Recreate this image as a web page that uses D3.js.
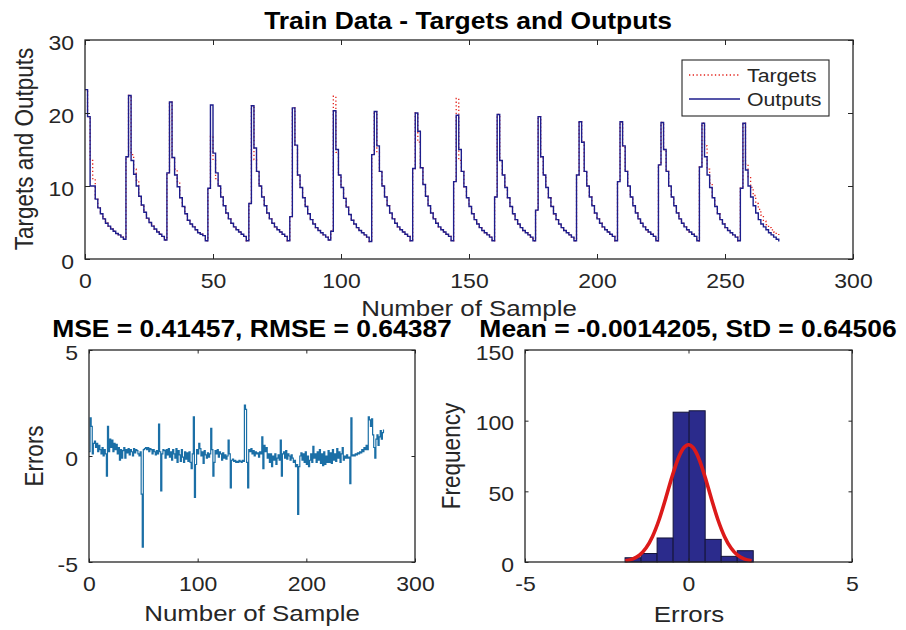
<!DOCTYPE html>
<html>
<head>
<meta charset="utf-8">
<script src="https://cdn.jsdelivr.net/npm/d3@7/dist/d3.min.js"></script>
<style>
body { margin: 0; background: #fff; }
</style>
</head>
<body>
<script>
// Outputs of the network, one value per sample (17 cycles of 16 samples)
var outputs = [
    23.2, 19.5, 10.0, 10.0, 8.2, 7.0, 6.2, 5.5, 4.9, 4.5, 4.1, 3.8, 3.5, 3.3, 3.0, 2.7,
    14.0, 22.4, 13.5, 11.6, 10.0, 8.6, 7.4, 6.4, 5.6, 5.0, 4.5, 4.1, 3.7, 3.4, 3.1, 2.6,
    11.8, 21.5, 13.9, 11.5, 9.9, 8.4, 7.2, 6.2, 5.3, 4.8, 4.4, 4.0, 3.6, 3.4, 3.2, 2.5,
    9.7, 21.1, 14.5, 11.8, 10.0, 8.5, 7.3, 6.3, 5.5, 4.9, 4.4, 4.0, 3.7, 3.4, 3.1, 2.5,
    7.6, 21.0, 15.2, 12.0, 10.0, 8.5, 7.3, 6.3, 5.5, 4.9, 4.4, 4.0, 3.7, 3.4, 3.1, 2.5,
    5.8, 20.7, 15.6, 11.5, 9.8, 8.4, 7.2, 6.2, 5.4, 4.8, 4.3, 3.9, 3.6, 3.3, 3.0, 2.6,
    3.8, 20.3, 15.0, 11.5, 9.8, 8.3, 7.1, 6.1, 5.3, 4.8, 4.3, 3.9, 3.6, 3.3, 3.0, 2.4,
    14.3, 20.2, 15.5, 12.0, 10.0, 8.5, 7.3, 6.3, 5.5, 4.9, 4.4, 4.0, 3.7, 3.4, 3.1, 2.5,
    12.4, 20.0, 17.5, 12.5, 10.2, 8.6, 7.3, 6.3, 5.5, 4.9, 4.4, 4.0, 3.7, 3.4, 3.1, 2.5,
    10.6, 19.7, 15.0, 12.0, 9.9, 8.4, 7.2, 6.2, 5.4, 4.8, 4.3, 3.9, 3.6, 3.3, 3.0, 2.5,
    8.5, 19.8, 13.5, 11.5, 9.8, 8.4, 7.2, 6.2, 5.4, 4.8, 4.3, 3.9, 3.6, 3.3, 3.0, 2.5,
    6.7, 19.5, 14.0, 11.5, 9.8, 8.4, 7.2, 6.2, 5.4, 4.8, 4.3, 3.9, 3.6, 3.3, 3.0, 2.5,
    11.5, 18.8, 16.0, 12.0, 10.0, 8.5, 7.3, 6.3, 5.5, 4.9, 4.4, 4.0, 3.7, 3.4, 3.1, 2.5,
    10.6, 18.8, 15.5, 12.0, 10.0, 8.5, 7.3, 6.3, 5.5, 4.9, 4.4, 4.0, 3.7, 3.4, 3.1, 2.5,
    12.9, 18.7, 15.0, 12.0, 10.0, 8.5, 7.3, 6.3, 5.5, 4.9, 4.4, 4.0, 3.7, 3.4, 3.1, 2.5,
    12.6, 18.6, 14.0, 11.5, 9.8, 8.4, 7.2, 6.2, 5.4, 4.8, 4.3, 3.9, 3.6, 3.3, 3.0, 2.5,
    9.7, 18.6, 12.2, 10.0, 8.5, 7.3, 6.3, 5.4, 4.8, 4.4, 4.0, 3.6, 3.3, 3.0, 2.7, 2.4
];

// Targets (mostly hidden under the outputs)
var targets = [
    23.2, 19.5, 13.5, 11.0, 8.2, 7.0, 6.2, 5.5, 4.9, 4.5, 4.1, 3.8, 3.5, 3.3, 3.0, 2.7,
    14.0, 22.4, 14.3, 12.3, 10.8, 8.6, 7.4, 6.4, 5.6, 5.0, 4.5, 4.1, 3.7, 3.4, 3.1, 2.6,
    11.8, 21.5, 13.9, 12.3, 10.6, 8.4, 7.2, 6.2, 5.3, 4.8, 4.4, 4.0, 3.6, 3.4, 3.2, 2.5,
    9.7, 16.8, 13.5, 11.0, 10.0, 8.5, 7.3, 6.3, 5.5, 4.9, 4.4, 4.0, 3.7, 3.4, 3.1, 2.5,
    7.6, 21.0, 13.6, 12.0, 10.0, 8.5, 7.3, 6.3, 5.5, 4.9, 4.4, 4.0, 3.7, 3.4, 3.1, 2.5,
    5.8, 20.7, 15.6, 11.5, 9.8, 8.4, 7.2, 6.2, 5.4, 4.8, 4.3, 3.9, 3.6, 3.3, 3.0, 2.6,
    3.8, 22.3, 14.6, 11.5, 9.8, 8.3, 7.1, 6.1, 5.3, 4.8, 4.3, 3.9, 3.6, 3.3, 3.0, 2.4,
    14.3, 20.2, 14.6, 12.0, 10.0, 8.5, 7.3, 6.3, 5.5, 4.9, 4.4, 4.0, 3.7, 3.4, 3.1, 2.5,
    12.4, 20.0, 16.0, 12.5, 10.2, 8.6, 7.3, 6.3, 5.5, 4.9, 4.4, 4.0, 3.7, 3.4, 3.1, 2.5,
    10.6, 22.0, 13.5, 12.0, 9.9, 8.4, 7.2, 6.2, 5.4, 4.8, 4.3, 3.9, 3.6, 3.3, 3.0, 2.5,
    8.5, 19.8, 13.5, 11.5, 9.8, 8.4, 7.2, 6.2, 5.4, 4.8, 4.3, 3.9, 3.6, 3.3, 3.0, 2.5,
    6.7, 19.5, 14.0, 11.5, 9.8, 8.4, 7.2, 6.2, 5.4, 4.8, 4.3, 3.9, 3.6, 3.3, 3.0, 2.5,
    11.5, 18.8, 16.0, 12.0, 10.0, 8.5, 7.3, 6.3, 5.5, 4.9, 4.4, 4.0, 3.7, 3.4, 3.1, 2.5,
    10.6, 18.8, 15.5, 12.0, 10.0, 8.5, 7.3, 6.3, 5.5, 4.9, 4.4, 4.0, 3.7, 3.4, 3.1, 2.5,
    12.9, 18.7, 15.0, 12.0, 10.0, 8.5, 7.3, 6.3, 5.5, 4.9, 4.4, 4.0, 3.7, 3.4, 3.1, 2.5,
    12.6, 18.6, 15.5, 12.3, 10.4, 8.4, 7.2, 6.2, 5.4, 4.8, 4.3, 3.9, 3.6, 3.3, 3.0, 2.5,
    9.7, 18.6, 13.0, 11.3, 9.8, 8.7, 7.6, 6.8, 6.0, 5.2, 4.7, 4.3, 4.0, 3.7, 3.5, 3.3
];

// Errors (targets - outputs) per sample
var errors = [
    0.2, 1.8, 1.4, 0.1, 0.6, 0.7, 0.4, 0.6, 0.2, 0.5, 0.3, 0.1, 0.4, 0.0, 0.3, 0.1,
    -0.95, 1.4, 0.2, 0.8, 0.4, 0.75, 0.2, 0.6, 0.3, 0.55, 0.1, 0.4, -0.2, 0.3, -0.1, 0.25,
    0.4, -0.1, 0.3, 0.15, 0.35, 0.05, 0.3, 0.2, 0.0, 0.35, 0.15, 0.3, 0.25, 0.1, 0.0, 0.2,
    -1.8, -4.3, 0.3, 0.35, 0.4, 0.3, 0.4, 0.2, 0.35, 0.3, 0.1, 0.3, 0.2, 0.05, 0.25, 0.1,
    1.5, 0.2, -1.65, 0.1, 0.3, 0.25, -0.1, 0.3, 0.05, 0.35, -0.05, 0.2, -0.2, 0.3, 0.1, -0.1,
    0.35, -0.3, 0.25, 0.05, -0.25, 0.3, -0.05, -0.3, 0.2, -0.15, 0.15, -0.25, 0.2, -0.3, -0.6, 0.1,
    1.85, -1.95, -0.4, 0.3, 0.1, 0.6, 0.35, 0.0, 0.2, -0.35, 0.25, 0.05, -0.1, 0.15, -0.05, 0.1,
    1.3, 0.3, -0.95, -0.3, 0.25, 0.1, 0.3, -0.05, 0.2, 0.1, -0.2, 0.15, -0.1, 0.05, -0.15, 0.0,
    0.75, 0.1, -1.5, -0.2, -0.15, -0.25, -0.2, -0.3, -0.25, -0.3, -0.2, -0.25, -0.3, -0.2, -0.25, 2.4,
    2.2, -0.3, -1.5, 0.3, 0.2, 0.35, 0.1, 0.25, 0.0, 0.2, 0.1, 0.15, -0.05, 0.2, 0.1, 0.9,
    -0.6, 0.5, 0.2, 0.4, -0.1, 0.1, -0.3, 0.1, -0.5, 0.0, -0.2, 0.1, -0.4, -0.1, 0.05, -0.2,
    0.75, -0.95, 0.1, 0.2, -0.1, 0.25, -0.15, 0.1, 0.0, -0.2, 0.05, -0.1, -0.3, -0.2, -0.5, -0.4,
    -2.75, -0.5, 0.0, 0.15, -0.2, 0.1, -0.3, 0.2, -0.4, 0.0, -0.5, -0.2, 0.1, -0.3, 0.45, -0.1,
    0.1, -0.3, 0.2, -0.2, 0.3, -0.35, 0.1, -0.45, 0.2, -0.4, 0.0, -0.3, 0.25, -0.3, 0.15, -0.35,
    0.3, -0.2, 0.1, -0.25, 0.35, -0.1, 0.2, -0.3, 0.1, 0.4, -0.2, 0.0, -0.1, 0.05, -0.1, -0.05,
    -1.3, 1.8, 0.0, 0.05, 0.0, 0.1, 0.05, 0.15, 0.1, 0.2, 0.15, 0.3, 0.2, 0.4, 0.3, 0.5,
    0.3, 1.85, 1.7, 1.4, 1.75, 1.0, 0.4, -0.1, 0.8, 1.0, 0.5, 0.9, 1.2, 0.8, 1.1, 1.25
];

// Histogram of errors
var binEdges = [-1.94, -1.45, -0.96, -0.47, 0.02, 0.51, 1.00, 1.49, 1.98];
var binCounts = [3, 6, 17, 106, 107, 16, 4, 8];

// Fitted normal curve (red)
var normX = [-1.93, -1.7, -1.5, -1.3, -1.1, -0.9, -0.7, -0.5, -0.3, -0.15, 0, 0.15, 0.3, 0.5, 0.7, 0.9, 1.1, 1.3, 1.5, 1.7, 1.93];
var normY = [0.8, 2.2, 4.9, 9.9, 18.1, 29.9, 44.8, 60.6, 74.1, 80.7, 83.0, 80.7, 74.1, 60.6, 44.8, 29.9, 18.1, 9.9, 4.9, 2.2, 0.8];

// Ticks
var topXTicks = [0, 50, 100, 150, 200, 250, 300];
var topYTicks = [0, 10, 20, 30];
var errXTicks = [0, 100, 200, 300];
var errYTicks = [-5, 0, 5];
var histXTicks = [-5, 0, 5];
var histYTicks = [0, 50, 100, 150];

var SX = 1.15;   // source figure is a bit stretched sideways, text too
var FONT = '"Liberation Sans", Arial, Helvetica, sans-serif';
var INK = '#262626';
var plain = (d) => String(d);   // keep "-5" with a hyphen, like the source

var svg = d3.select('body').append('svg')
    .attr('width', 906).attr('height', 630)
    .style('background', '#fff');

function addText(x, y, str, size, bold, rotate, anchor) {
    return svg.append('text')
        .attr('transform', 'translate(' + x + ',' + y + ') scale(' + SX + ',1)' + (rotate ? ' rotate(-90)' : ''))
        .attr('text-anchor', anchor || 'middle')
        .attr('font-family', FONT)
        .attr('font-size', size)
        .attr('font-weight', bold ? 'bold' : 'normal')
        .attr('fill', bold ? '#000' : INK)
        .text(str);
}

// Makes one set of axes: scales, a layer for data, then box and ticks on top
function Panel(box, xDomain, yDomain, xTicks, yTicks, tick) {
    this.x = d3.scaleLinear().domain(xDomain).range([box.left, box.right]);
    this.y = d3.scaleLinear().domain(yDomain).range([box.bottom, box.top]);
    this.data = svg.append('g');
    var g = svg.append('g').attr('color', INK);

    var sides = [
        [d3.axisBottom(this.x).tickValues(xTicks).tickFormat(plain), 'translate(0,' + box.bottom + ')', true],
        [d3.axisTop(this.x).tickValues(xTicks).tickFormat(''), 'translate(0,' + box.top + ')', false],
        [d3.axisLeft(this.y).tickValues(yTicks).tickFormat(plain), 'translate(' + box.left + ',0)', true],
        [d3.axisRight(this.y).tickValues(yTicks).tickFormat(''), 'translate(' + box.right + ',0)', false]
    ];
    sides.forEach(function(s, i) {
        var a = g.append('g').attr('transform', s[1])
            .call(s[0].tickSizeInner(-tick).tickSizeOuter(0));
        a.select('.domain').remove();
        a.selectAll('line').attr('stroke-width', 1);
        if (!s[2]) return;
        var t = a.selectAll('text')
            .attr('font-family', FONT)
            .attr('font-size', 20)
            .attr('fill', INK)
            .attr('transform', 'scale(' + SX + ',1)');
        if (i === 0)
            t.attr('y', 29.5).attr('dy', null);
        else
            t.attr('x', -11 / SX).attr('dy', '0.46em');
    });

    g.append('rect')
        .attr('x', box.left).attr('y', box.top)
        .attr('width', box.right - box.left).attr('height', box.bottom - box.top)
        .attr('fill', 'none').attr('stroke', INK).attr('stroke-width', 1.3);
}

// ---------- Top: targets and outputs ----------
var top1 = new Panel({left: 85, right: 853, top: 40, bottom: 259}, [0, 300], [0, 30], topXTicks, topYTicks, 5);

var stepLine = (p, vals) => d3.line()
    .x((d, i) => p.x(i))
    .y((d) => p.y(d))
    .curve(d3.curveStepAfter)(vals);

top1.data.append('path')
    .attr('d', stepLine(top1, targets))
    .attr('fill', 'none').attr('stroke', '#e3231c')
    .attr('stroke-width', 1.3).attr('stroke-dasharray', '1.3,2.4');
top1.data.append('path')
    .attr('d', stepLine(top1, outputs))
    .attr('fill', 'none').attr('stroke', '#1d1d8c')
    .attr('stroke-width', 1.4);

// Legend:
svg.append('rect')
    .attr('x', 682).attr('y', 60).attr('width', 147).attr('height', 56)
    .attr('fill', '#fff').attr('stroke', INK).attr('stroke-width', 1.1);
svg.append('line')
    .attr('x1', 689).attr('x2', 740).attr('y1', 75).attr('y2', 75)
    .attr('stroke', '#e3231c').attr('stroke-width', 1.3).attr('stroke-dasharray', '1.3,2.4');
svg.append('line')
    .attr('x1', 689).attr('x2', 740).attr('y1', 99).attr('y2', 99)
    .attr('stroke', '#1d1d8c').attr('stroke-width', 1.4);
addText(747, 82, 'Targets', 18.5, false, false, 'start');
addText(747, 106, 'Outputs', 18.5, false, false, 'start');

addText(468, 29, 'Train Data - Targets and Outputs', 23, true);
addText(469, 316, 'Number of Sample', 22.5);
addText(33, 149, 'Targets and Outputs', 22.5, false, true);

// ---------- Bottom left: errors ----------
var errP = new Panel({left: 89, right: 415, top: 350, bottom: 562}, [0, 300], [-5, 5], errXTicks, errYTicks, 3.5);
errP.data.append('path')
    .attr('d', stepLine(errP, errors))
    .attr('fill', 'none').attr('stroke', '#1b6fa6')
    .attr('stroke-width', 1.2);

addText(252, 337, 'MSE = 0.41457, RMSE = 0.64387', 23, true);
addText(252, 621, 'Number of Sample', 22.5);
addText(43, 456, 'Errors', 22.5, false, true);

// ---------- Bottom right: histogram ----------
var histP = new Panel({left: 525, right: 852, top: 350, bottom: 562}, [-5, 5], [0, 150], histXTicks, histYTicks, 3.5);

// Draw bars:
histP.data.selectAll('rect.bar')
    .data(binCounts)
    .enter().append('rect').classed('bar', true)
    .attr('x', (d, i) => histP.x(binEdges[i]))
    .attr('y', (d) => histP.y(d))
    .attr('width', (d, i) => histP.x(binEdges[i + 1]) - histP.x(binEdges[i]))
    .attr('height', (d) => histP.y(0) - histP.y(d))
    .attr('fill', '#2b2b8c').attr('stroke', '#14143a').attr('stroke-width', 1);

histP.data.append('path')
    .attr('d', d3.line()
        .x((d, i) => histP.x(normX[i]))
        .y((d) => histP.y(d))
        .curve(d3.curveMonotoneX)(normY))
    .attr('fill', 'none').attr('stroke', '#dc1a1a')
    .attr('stroke-width', 3.6);

addText(688, 337, 'Mean = -0.0014205, StD = 0.64506', 23, true);
addText(689, 622, 'Errors', 22.5);
addText(460, 456, 'Frequency', 22.5, false, true);
</script>
</body>
</html>
